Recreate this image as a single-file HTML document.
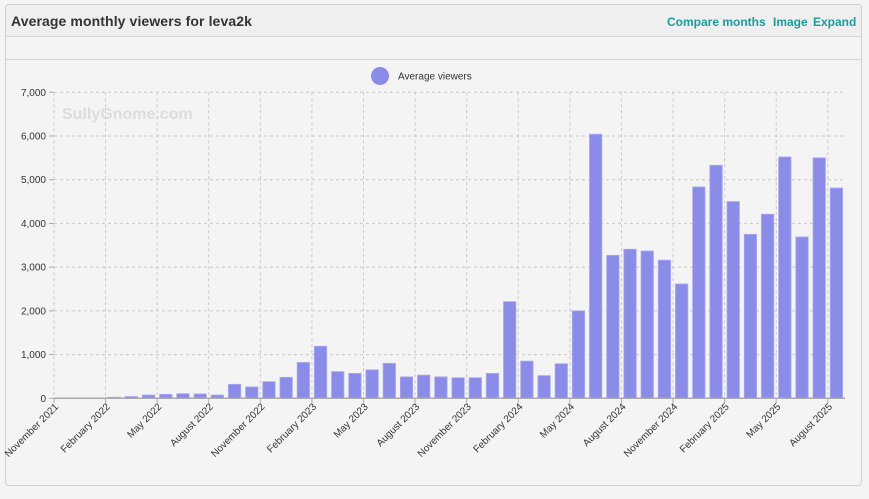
<!DOCTYPE html>
<html><head><meta charset="utf-8"><style>
body{margin:0;background:#f4f4f4;width:869px;height:499px;overflow:hidden;font-family:"Liberation Sans",sans-serif}
#panel{position:absolute;left:5px;top:4px;width:855px;height:480px;border:1px solid #d0d0d0;border-radius:4px;background:#f4f4f4}
#hdr{position:absolute;left:0;top:0;width:855px;height:31px;background:#efefef;border-bottom:1px solid #d4d4d4;border-radius:4px 4px 0 0}
#title{position:absolute;left:5px;top:8px;font-size:14px;font-weight:bold;color:#333;letter-spacing:0.1px}
.lnk{position:absolute;top:10px;font-size:12px;font-weight:bold;color:#1a9c9c;cursor:pointer;white-space:nowrap}
#sub{position:absolute;left:0;top:32px;width:855px;height:22px;border-bottom:1px solid #d4d4d4}
svg{position:absolute;left:0;top:0}
</style></head><body>
<div id="panel">
<div id="hdr">
<div id="title">Average monthly viewers for leva2k</div>
<div class="lnk" style="left:661px">Compare months</div>
<div class="lnk" style="left:767px">Image</div>
<div class="lnk" style="left:807px">Expand</div>
</div>
<div id="sub"></div>
</div>
<svg id="chart" width="869" height="499"></svg>
<script>
const categories=["November 2021","December 2021","January 2022","February 2022","March 2022","April 2022","May 2022","June 2022","July 2022","August 2022","September 2022","October 2022","November 2022","December 2022","January 2023","February 2023","March 2023","April 2023","May 2023","June 2023","July 2023","August 2023","September 2023","October 2023","November 2023","December 2023","January 2024","February 2024","March 2024","April 2024","May 2024","June 2024","July 2024","August 2024","September 2024","October 2024","November 2024","December 2024","January 2025","February 2025","March 2025","April 2025","May 2025","June 2025","July 2025","August 2025"];
const viewers=[10,10,10,25,40,75,90,105,100,75,320,260,380,480,820,1190,610,570,650,800,490,530,490,470,470,570,2210,850,520,790,2000,6040,3270,3410,3370,3160,2615,4835,5330,4500,3750,4210,5520,3690,5500,4810];
const yTicks=[0,1000,2000,3000,4000,5000,6000,7000];
const yTickLabels=["0","1,000","2,000","3,000","4,000","5,000","6,000","7,000"];
const NS="http://www.w3.org/2000/svg";
const svg=document.getElementById('chart');
const X0=54,X1=845,Y0=398.3,YMAX=7000,PXK=43.72;
const bw=(X1-X0)/categories.length;
const x=i=>X0+bw*i;
const y=v=>Y0-v/1000*PXK;
function mk(t,a,p){const e=document.createElementNS(NS,t);for(const k in a)e.setAttribute(k,a[k]);(p||svg).appendChild(e);return e;}
let wm=mk('text',{x:62,y:119,'font-size':16,'font-weight':'bold',fill:'#dcdcdc'});
wm.textContent='SullyGnome.com';


let lc=mk('circle',{cx:380,cy:76,r:9,fill:'#8b8be8'});


let lt=mk('text',{x:398,y:79.5,'font-size':10,fill:'#333'});
lt.textContent='Average viewers';


yTicks.forEach((t,i)=>{
 const yy=y(t);
 if(t>0){let g=mk('line',{x1:X0,x2:X1,y1:yy,y2:yy,stroke:'#c8c8c8','stroke-dasharray':'3,3'});
 
 }
 mk('line',{x1:X0-5,x2:X0,y1:yy,y2:yy,stroke:'#aaa'});
 let tx=mk('text',{x:X0-8,y:yy+3.5,'font-size':10,fill:'#333','text-anchor':'end'});
 tx.textContent=yTickLabels[i];
 
 
});
categories.forEach((c,i)=>{
 if(i%3!==0)return;
 const xx=x(i);
 let g=mk('line',{x1:xx,x2:xx,y1:y(YMAX),y2:Y0,stroke:'#c8c8c8','stroke-dasharray':'3,3'});
 
 
 mk('line',{x1:xx,x2:xx,y1:Y0,y2:Y0+5,stroke:'#aaa'});
 let tx=mk('text',{x:xx+5,y:Y0+9,'font-size':10,fill:'#333','text-anchor':'end',transform:`rotate(-45 ${xx+5} ${Y0+9})`});
 tx.textContent=c;
 
 
});
viewers.forEach((v,i)=>{
 const w=bw*0.72;
 let r=mk('rect',{x:x(i)+(bw-w)/2,y:y(v),width:w,height:Y0-y(v),fill:'#8b8be8',stroke:'#a9a9f0','stroke-width':0.8});
 
 
});
let ax=mk('line',{x1:X0,x2:X1,y1:Y0,y2:Y0,stroke:'#aaa','stroke-width':1.5});


</script>
</body></html>
